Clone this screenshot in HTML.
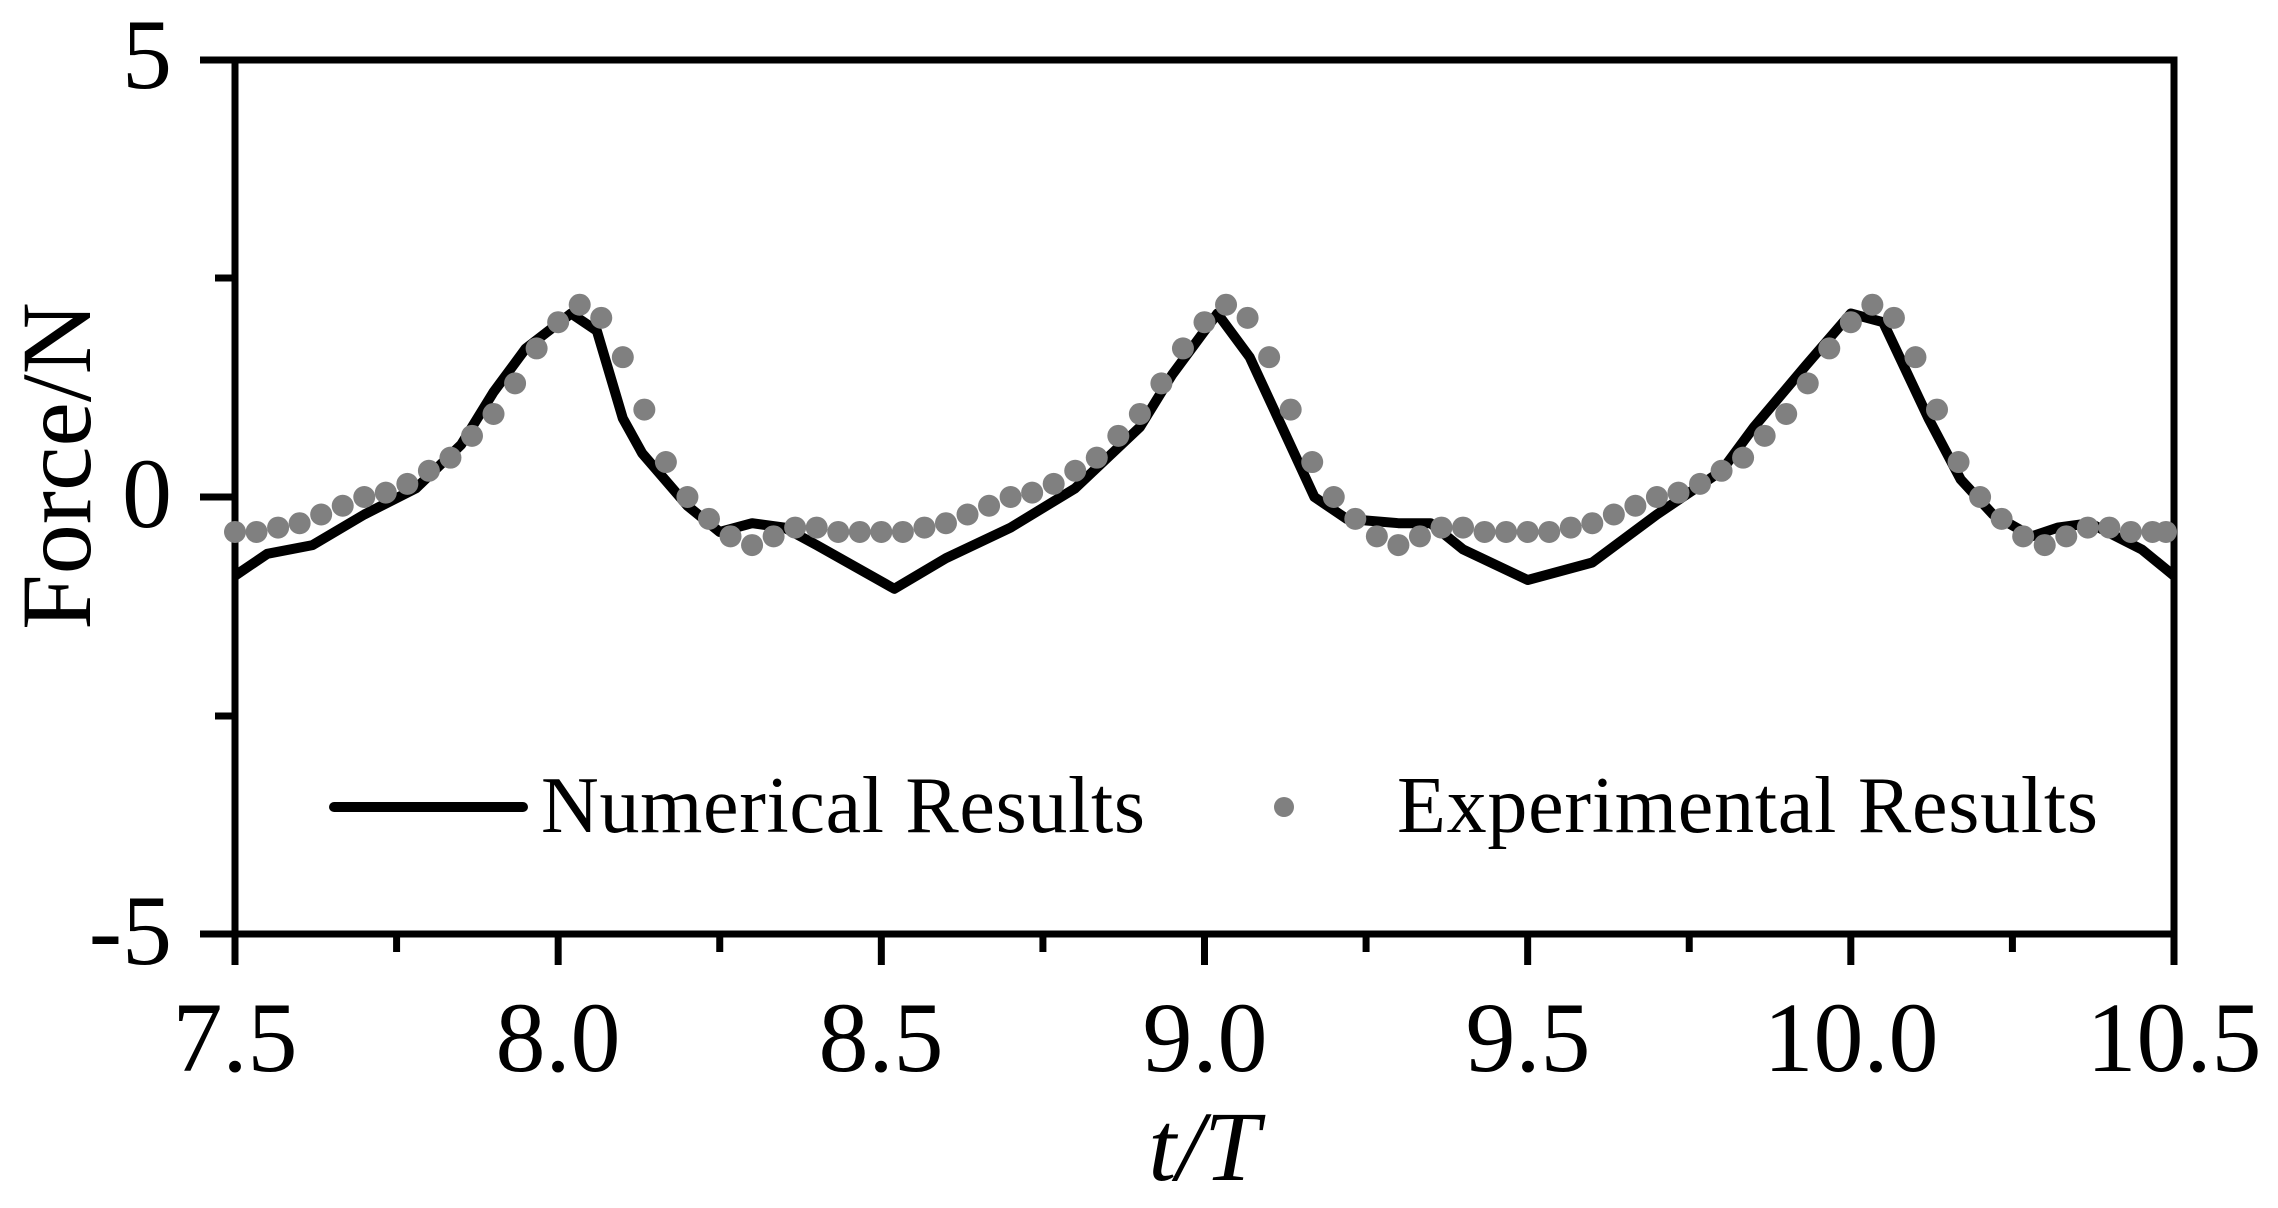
<!DOCTYPE html>
<html><head><meta charset="utf-8"><style>
html,body{margin:0;padding:0;background:#fff;}
svg{display:block;}
text{font-family:"Liberation Serif",serif;fill:#000;}
</style></head><body>
<svg id="s" width="2278" height="1208" viewBox="0 0 2278 1208" xmlns="http://www.w3.org/2000/svg">
<g stroke="#000" stroke-width="7" fill="none">
<rect x="235" y="60" width="1939" height="874"/>
<line x1="200" y1="60" x2="235" y2="60"/>
<line x1="200" y1="497" x2="235" y2="497"/>
<line x1="200" y1="934" x2="235" y2="934"/>
<line x1="215" y1="278" x2="235" y2="278"/>
<line x1="215" y1="716" x2="235" y2="716"/>
</g>
<g id="xt" stroke="#000" stroke-width="7"></g>
<g font-size="100">
<text x="172" y="88" text-anchor="end">5</text>
<text x="172" y="527" text-anchor="end">0</text>
<text x="172" y="964" text-anchor="end">-5</text>
<text x="235" y="1071" text-anchor="middle">7.5</text>
<text x="558" y="1071" text-anchor="middle">8.0</text>
<text x="881" y="1071" text-anchor="middle">8.5</text>
<text x="1205" y="1071" text-anchor="middle">9.0</text>
<text x="1528" y="1071" text-anchor="middle">9.5</text>
<text x="1851" y="1071" text-anchor="middle">10.0</text>
<text x="2174" y="1071" text-anchor="middle">10.5</text>
<text x="1204" y="1180" text-anchor="middle" font-style="italic">t/T</text>
<text transform="translate(90,466) rotate(-90)" text-anchor="middle">Force/N</text>
</g>
<polyline id="num" fill="none" stroke="#000" stroke-width="10" stroke-linejoin="round"/>
<g id="dots" fill="#808080"></g>
<line x1="334" y1="807" x2="523" y2="807" stroke="#000" stroke-width="10" stroke-linecap="round"/>
<text x="541" y="832" font-size="80" textLength="604">Numerical Results</text>
<circle cx="1284" cy="807" r="10" fill="#808080"/>
<text x="1397" y="832" font-size="80" textLength="701">Experimental Results</text>
</svg>
<script>
var X=function(t){return 235+(t-7.5)*646.33;},Y=function(v){return 497-v*87.4;};
var ns="http://www.w3.org/2000/svg";
var xt=document.getElementById('xt');
for(var i=0;i<=12;i++){var t=7.5+i*0.25;var l=document.createElementNS(ns,'line');var x=X(t);
l.setAttribute('x1',x);l.setAttribute('x2',x);l.setAttribute('y1',934);l.setAttribute('y2',i%2==0?965:952);xt.appendChild(l);}
var num=[[7.5,-0.9],[7.55,-0.65],[7.62,-0.55],[7.7,-0.2],[7.78,0.1],[7.85,0.6],[7.9,1.2],[7.95,1.7],[8.02,2.1],[8.06,1.9],[8.1,0.9],[8.13,0.5],[8.2,-0.1],[8.25,-0.4],[8.3,-0.3],[8.35,-0.35],[8.4,-0.55],[8.52,-1.05],[8.6,-0.7],[8.7,-0.35],[8.8,0.1],[8.9,0.8],[8.95,1.4],[9.02,2.1],[9.07,1.6],[9.12,0.8],[9.17,0],[9.22,-0.25],[9.3,-0.3],[9.35,-0.3],[9.4,-0.6],[9.5,-0.95],[9.6,-0.75],[9.7,-0.2],[9.8,0.3],[9.85,0.8],[9.93,1.5],[10.0,2.1],[10.05,2.0],[10.12,0.9],[10.17,0.2],[10.22,-0.2],[10.28,-0.45],[10.32,-0.35],[10.37,-0.3],[10.45,-0.6],[10.5,-0.9]];
document.getElementById('num').setAttribute('points',num.map(function(p){return X(p[0]).toFixed(1)+','+Y(p[1]).toFixed(1);}).join(' '));
var tpl=[-0.4,-0.4,-0.35,-0.3,-0.2,-0.1,0.0,0.05,0.15,0.3,0.45,0.7,0.95,1.3,1.7,2.0,2.2,2.05,1.6,1.0,0.4,0.0,-0.25,-0.45,-0.55,-0.45,-0.35,-0.35,-0.4,-0.4];
var d=document.getElementById('dots');
for(var n=0;n<3;n++){for(var k=0;k<30;k++){var t=8+n-0.5+k/30;var c=document.createElementNS(ns,'circle');
c.setAttribute('cx',X(t));c.setAttribute('cy',Y(tpl[k]));c.setAttribute('r',11);d.appendChild(c);}}
var c=document.createElementNS(ns,'circle');c.setAttribute('cx',X(10.5)-8);c.setAttribute('cy',Y(-0.4));c.setAttribute('r',11);d.appendChild(c);
</script>
</body></html>
